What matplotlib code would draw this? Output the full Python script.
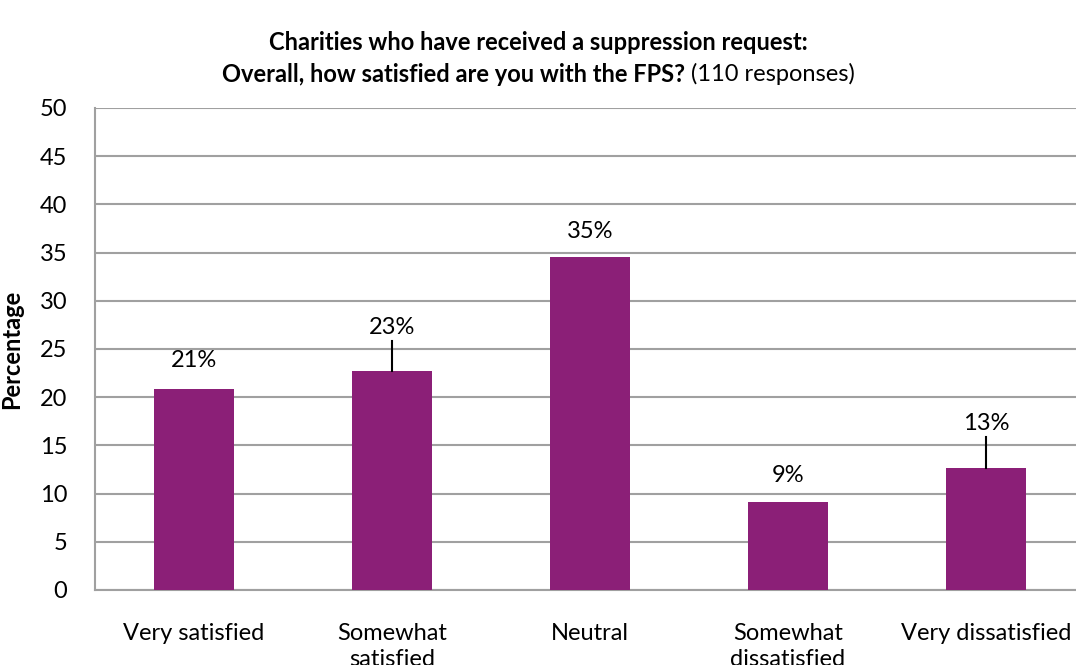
import matplotlib.pyplot as plt
import numpy as np

plt.rcParams['font.family'] = ['Lato', 'DejaVu Sans']

# data (110 responses)
categories = ['Very satisfied', 'Somewhat\nsatisfied', 'Neutral',
              'Somewhat\ndissatisfied', 'Very dissatisfied']
values = [20.9, 22.7, 34.5, 9.1, 12.7]
labels = ['21%', '23%', '35%', '9%', '13%']
# label height above bar (data units); leaders drawn where offset is large
label_pos = [23.8, 27.2, 37.2, 11.9, 17.3]

bar_color = '#8B1F77'
grid_color = '#A0A0A0'
fs = 17

fig = plt.figure(figsize=(10.76, 6.65), dpi=100)
ax = fig.add_axes([95 / 1076, 75 / 665, 990 / 1076, 482 / 665])

x = np.arange(len(categories))
ax.bar(x, values, width=0.4, color=bar_color, zorder=3)

for xi, v, lab, ly in zip(x, values, labels, label_pos):
    ax.text(xi, ly, lab, ha='center', va='center', fontsize=fs, zorder=4)
    if ly - v > 3.5:
        ax.plot([xi, xi], [v, ly - 1.4], color='black', lw=1.5, zorder=4)

ax.set_xlim(-0.5, len(categories) - 0.5)
ax.set_ylim(0, 50)
ax.set_yticks(range(0, 51, 5))
ax.set_xticks(x)
ax.set_xticklabels(categories, fontsize=fs, linespacing=1.25)
ax.tick_params(axis='y', labelsize=fs, length=0, pad=20)
ax.tick_params(axis='x', length=0, pad=24)
ax.yaxis.grid(True, color=grid_color, lw=1.5, zorder=0)

for s in ['top', 'right']:
    ax.spines[s].set_visible(False)
for s in ['left', 'bottom']:
    ax.spines[s].set_color(grid_color)
    ax.spines[s].set_linewidth(1.5)

ax.set_ylabel('Percentage', fontsize=fs, fontweight='bold', labelpad=12)

fig.text(0.5, 1 - 42 / 665, 'Charities who have received a suppression request:',
         ha='center', va='center', fontsize=fs, fontweight='bold')
# second title line: bold question + regular response count, centred together
y2 = 1 - 74 / 665
t1 = fig.text(0.5, y2, 'Overall, how satisfied are you with the FPS?',
              ha='right', va='center', fontsize=fs, fontweight='bold')
t2 = fig.text(0, y2, ' (110 responses)', ha='left', va='center', fontsize=fs)
fig.canvas.draw()
w_bold = t1.get_window_extent().width
w_norm = t2.get_window_extent().width
left = (1076 - w_bold - w_norm) / 2
t1.set_x((left + w_bold) / 1076)
t2.set_x((left + w_bold) / 1076)

fig.savefig('out.png', dpi=100)
